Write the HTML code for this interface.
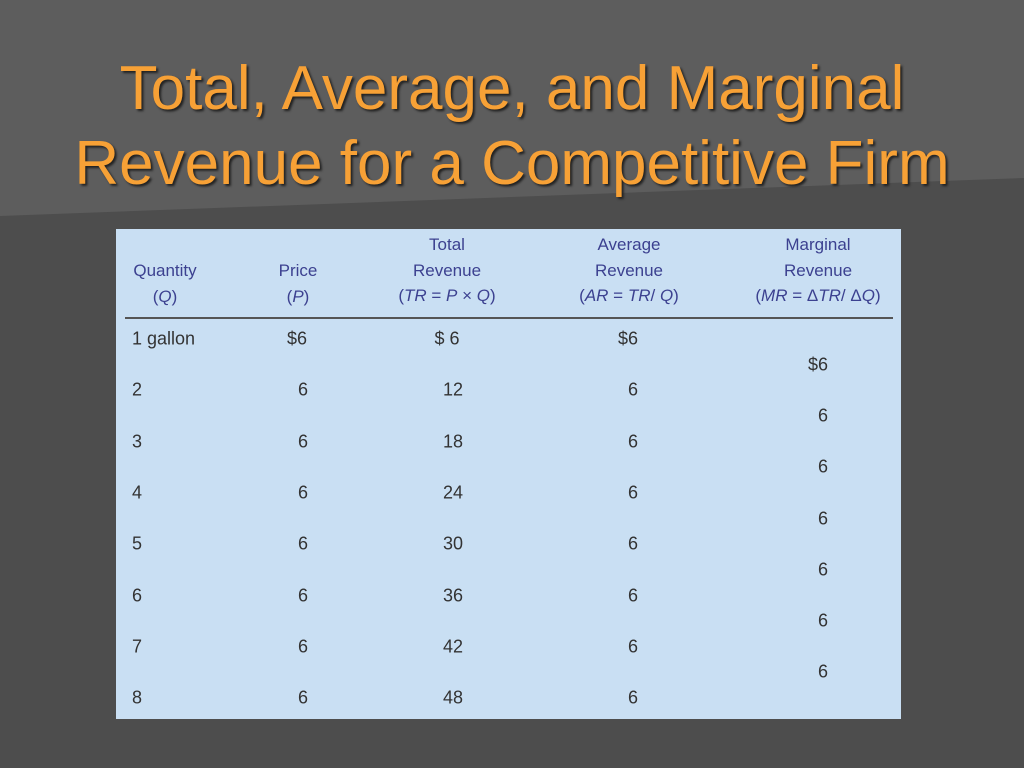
<!DOCTYPE html>
<html><head><meta charset="utf-8"><style>
body{margin:0;width:1024px;height:768px;overflow:hidden;font-family:"Liberation Sans",sans-serif;}
#bg{position:absolute;left:0;top:0}
.title{position:absolute;left:0;width:1024px;text-align:center;color:#f7a136;font-size:62px;line-height:75px;top:51px;text-shadow:2px 2px 2px #222;}
#tbl{position:absolute;left:116px;top:229px;width:785px;height:490px;background:#c9dff3;}
.h{position:absolute;color:#3c4190;font-size:17px;text-align:center;line-height:25.5px;transform:translateX(-50%);white-space:nowrap}
.c{position:absolute;color:#333;font-size:18px;transform:translate(-50%,-50%);white-space:nowrap}
#rule{position:absolute;left:9px;width:768px;top:88px;height:2px;background:#555}
</style></head><body>
<svg id="bg" width="1024" height="768">
<rect width="1024" height="768" fill="#4d4d4d"/>
<polygon points="0,0 1024,0 1024,178 0,216" fill="#5d5d5d"/>
</svg>
<div class="title">Total, Average, and Marginal<br>Revenue for a Competitive Firm</div>
<div id="tbl">
<div class="h" style="left:49px;top:29px">Quantity<br>(<i>Q</i>)</div>
<div class="h" style="left:182px;top:29px">Price<br>(<i>P</i>)</div>
<div class="h" style="left:331px;top:3px">Total<br>Revenue<br>(<i>TR</i> = <i>P</i> × <i>Q</i>)</div>
<div class="h" style="left:513px;top:3px">Average<br>Revenue<br>(<i>AR</i> = <i>TR</i>/ <i>Q</i>)</div>
<div class="h" style="left:702px;top:3px">Marginal<br>Revenue<br>(<i>MR</i> = Δ<i>TR</i>/ Δ<i>Q</i>)</div>
<div id="rule"></div>
</div>
<script>
const quantities=["1 gallon","2","3","4","5","6","7","8"];
const prices=["$6","6","6","6","6","6","6","6"];
const totals=["$ 6","12","18","24","30","36","42","48"];
const averages=["$6","6","6","6","6","6","6","6"];
const marginals=["$6","6","6","6","6","6","6"];
const t=document.getElementById('tbl');
function cell(txt,x,y,name,left){const d=document.createElement('div');d.className='c';d.textContent=txt;d.style.left=x+'px';d.style.top=y+'px';if(left)d.style.transform='translate(0,-50%)';


t.appendChild(d);}
const y0=110,dy=51.3;
quantities.forEach((q,i)=>{const y=y0+i*dy;
cell(q,16,y,'quantity-cell',true);
cell(prices[i],i?187:181,y,'price-cell');
cell(totals[i],i?337:331,y,'total-revenue-cell');
cell(averages[i],i?517:512,y,'average-revenue-cell');});
marginals.forEach((m,i)=>cell(m,i?707:702,y0+dy/2+i*dy,'marginal-revenue-cell'));
</script>
</body></html>
